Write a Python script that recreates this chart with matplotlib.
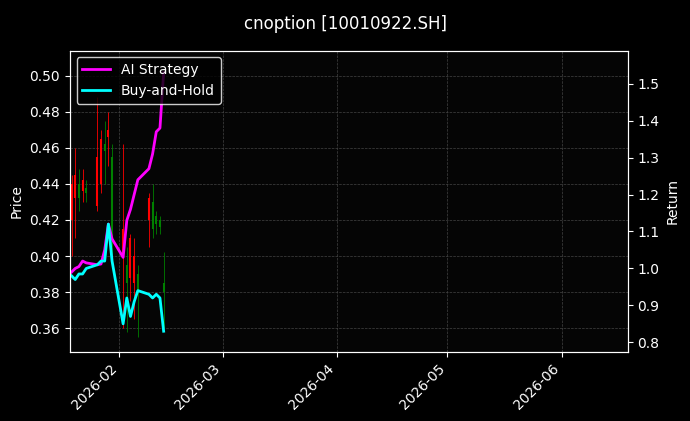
import matplotlib
matplotlib.use("Agg")
import matplotlib.pyplot as plt
import matplotlib.dates as mdates
import pandas as pd
import numpy as np

dates = pd.to_datetime(["2026-01-19","2026-01-20","2026-01-21","2026-01-22","2026-01-23",
    "2026-01-26","2026-01-27","2026-01-28","2026-01-29","2026-01-30",
    "2026-02-02","2026-02-03","2026-02-04","2026-02-05","2026-02-06",
    "2026-02-09","2026-02-10","2026-02-11","2026-02-12","2026-02-13"])
opens  = [0.420,0.432,0.440,0.436,0.438,0.428,0.440,0.462,0.466,0.455,0.400,0.395,0.388,0.385,0.390,0.420,0.430,0.422,0.420,0.385]
closes = [0.440,0.445,0.432,0.442,0.435,0.455,0.465,0.458,0.470,0.405,0.415,0.385,0.410,0.400,0.380,0.432,0.415,0.418,0.416,0.380]
highs  = [0.445,0.460,0.448,0.448,0.442,0.488,0.470,0.475,0.480,0.462,0.462,0.405,0.412,0.410,0.395,0.435,0.440,0.425,0.422,0.402]
lows   = [0.400,0.410,0.425,0.430,0.430,0.425,0.435,0.440,0.450,0.400,0.360,0.358,0.375,0.365,0.355,0.405,0.410,0.412,0.412,0.360]
ai_ret = [0.99,1.00,1.005,1.02,1.015,1.01,1.012,1.05,1.12,1.08,1.03,1.13,1.16,1.20,1.24,1.27,1.31,1.37,1.38,1.53]
bh_ret = [0.98,0.97,0.985,0.985,1.00,1.01,1.02,1.02,1.12,1.02,0.85,0.92,0.87,0.91,0.94,0.93,0.92,0.93,0.92,0.83]

fig = plt.figure(figsize=(6.9,4.21), dpi=100, facecolor="black")
ax = fig.add_axes([0.101, 0.165, 0.809, 0.715])
ax.set_facecolor("#050505")
for d,o,c,h,l in zip(dates,opens,closes,highs,lows):
    col = "red" if c >= o else "green"
    ax.vlines(d, l, h, color=col, linewidth=0.6)
    ax.vlines(d, min(o,c), max(o,c), color=col, linewidth=1.5)
ax.set_ylim(0.347, 0.514)
ax.set_xlim(pd.Timestamp("2026-01-18 12:00"), pd.Timestamp("2026-06-19"))
ax.set_ylabel("Price", color="white")
ax.grid(True, color="#444444", linestyle="--", linewidth=0.5)
ax.xaxis.set_major_locator(mdates.MonthLocator())
ax.xaxis.set_major_formatter(mdates.DateFormatter("%Y-%m"))
ax2 = ax.twinx()
ax2.plot(dates, ai_ret, color="#ff00ff", linewidth=2, label="AI Strategy")
ax2.plot(dates, bh_ret, color="cyan", linewidth=2, label="Buy-and-Hold")
ax2.set_ylim(0.775, 1.59)
ax2.set_ylabel("Return", color="white")
for a in (ax, ax2):
    a.tick_params(colors="white")
    for s in a.spines.values():
        s.set_color("white")
plt.setp(ax.get_xticklabels(), rotation=45, ha="right")
leg = ax2.legend(loc="upper left", facecolor="black", edgecolor="white", labelcolor="white")
fig.suptitle("cnoption [10010922.SH]", color="white", y=0.965)
fig.savefig("out.png", facecolor="black")
